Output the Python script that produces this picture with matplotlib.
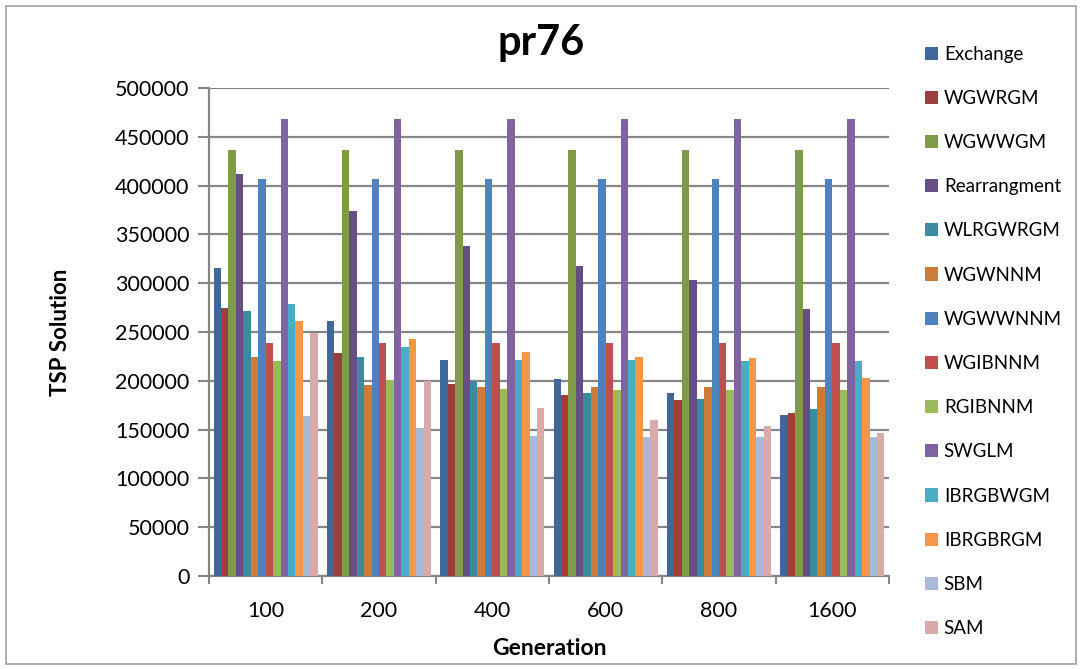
import numpy as np
import matplotlib
matplotlib.use("Agg")
import matplotlib.pyplot as plt
from matplotlib.patches import Rectangle

generations = ["100", "200", "400", "600", "800", "1600"]

exchange     = [316000, 261000, 221000, 202000, 188000, 165000]
wgwrgm       = [275000, 228000, 197000, 185000, 180000, 167000]
wgwwgm       = [436000, 436000, 436000, 436000, 436000, 436000]
rearrangment = [412000, 374000, 338000, 318000, 303000, 274000]
wlrgwrgm     = [271000, 224000, 200000, 187000, 181000, 171000]
wgwnnm       = [224000, 196000, 194000, 194000, 194000, 194000]
wgwwnnm      = [407000, 407000, 407000, 407000, 407000, 407000]
wgibnnm      = [239000, 239000, 239000, 239000, 239000, 239000]
rgibnnm      = [220000, 201000, 192000, 191000, 191000, 191000]
swglm        = [468000, 468000, 468000, 468000, 468000, 468000]
ibrgbwgm     = [279000, 235000, 221000, 221000, 220000, 220000]
ibrgbrgm     = [261000, 243000, 230000, 224000, 223000, 203000]
sbm          = [164000, 152000, 143000, 142000, 142000, 142000]
sam          = [249000, 200000, 172000, 160000, 154000, 147000]

series = [
    ("Exchange", exchange, "#3F6899"),
    ("WGWRGM", wgwrgm, "#9E3F3D"),
    ("WGWWGM", wgwwgm, "#7F9B48"),
    ("Rearrangment", rearrangment, "#664F84"),
    ("WLRGWRGM", wlrgwrgm, "#3A8BA0"),
    ("WGWNNM", wgwnnm, "#CC7B38"),
    ("WGWWNNM", wgwwnnm, "#4F81BD"),
    ("WGIBNNM", wgibnnm, "#C0504D"),
    ("RGIBNNM", rgibnnm, "#9BBB59"),
    ("SWGLM", swglm, "#8064A2"),
    ("IBRGBWGM", ibrgbwgm, "#4BACC6"),
    ("IBRGBRGM", ibrgbrgm, "#F79646"),
    ("SBM", sbm, "#AAB9D7"),
    ("SAM", sam, "#D9AAAA"),
]

plt.rcParams["font.family"] = ["Lato", "DejaVu Sans"]

fig = plt.figure(figsize=(10.82, 6.69), dpi=100)
ax = fig.add_axes([0.1932, 0.139, 0.6284, 0.7295])

n = len(series)
x = np.arange(len(generations))
group_w = 0.92
bw = group_w / n
for i, (name, vals, col) in enumerate(series):
    ax.bar(x - group_w / 2 + bw * (i + 0.5), vals, bw, color=col,
           label=name, zorder=3, linewidth=0)

grid_col = "#868686"
ax.set_ylim(0, 500000)
ax.set_xlim(-0.5, len(generations) - 0.5)
ax.set_yticks(np.arange(0, 500001, 50000))
ax.yaxis.grid(True, color=grid_col, linewidth=1.6, zorder=0)
ax.set_xticks(x)
ax.set_xticklabels(generations)
ax.set_xticks(np.arange(-0.5, len(generations), 1.0), minor=True)
ax.tick_params(axis="x", which="major", length=0, pad=18, labelsize=15.5)
ax.tick_params(axis="x", which="minor", length=6, width=1.5, color=grid_col)
ax.tick_params(axis="y", length=8, width=1.5, color=grid_col, labelsize=15.5, pad=6)
for s in ["top", "right"]:
    ax.spines[s].set_visible(False)
for s in ["left", "bottom"]:
    ax.spines[s].set_color(grid_col)
    ax.spines[s].set_linewidth(1.6)

ax.set_xlabel("Generation", fontsize=16.5, fontweight="bold", labelpad=12)
ax.set_ylabel("TSP Solution", fontsize=16, fontweight="bold", labelpad=32)
fig.text(0.5, 0.935, "pr76", fontsize=30, fontweight="bold", ha="center", va="center")

ax.legend(loc="upper left", bbox_to_anchor=(0.848, 0.943), bbox_transform=fig.transFigure,
          frameon=False, fontsize=13.5, handlelength=0.7, handleheight=0.7,
          handletextpad=0.3, labelspacing=1.45, borderaxespad=0)

fig.patches.append(Rectangle((0.0055, 0.008), 0.989, 0.983, transform=fig.transFigure,
                             fill=False, edgecolor="#A0A0A0", linewidth=1.2))

fig.savefig("out.png", dpi=100)
